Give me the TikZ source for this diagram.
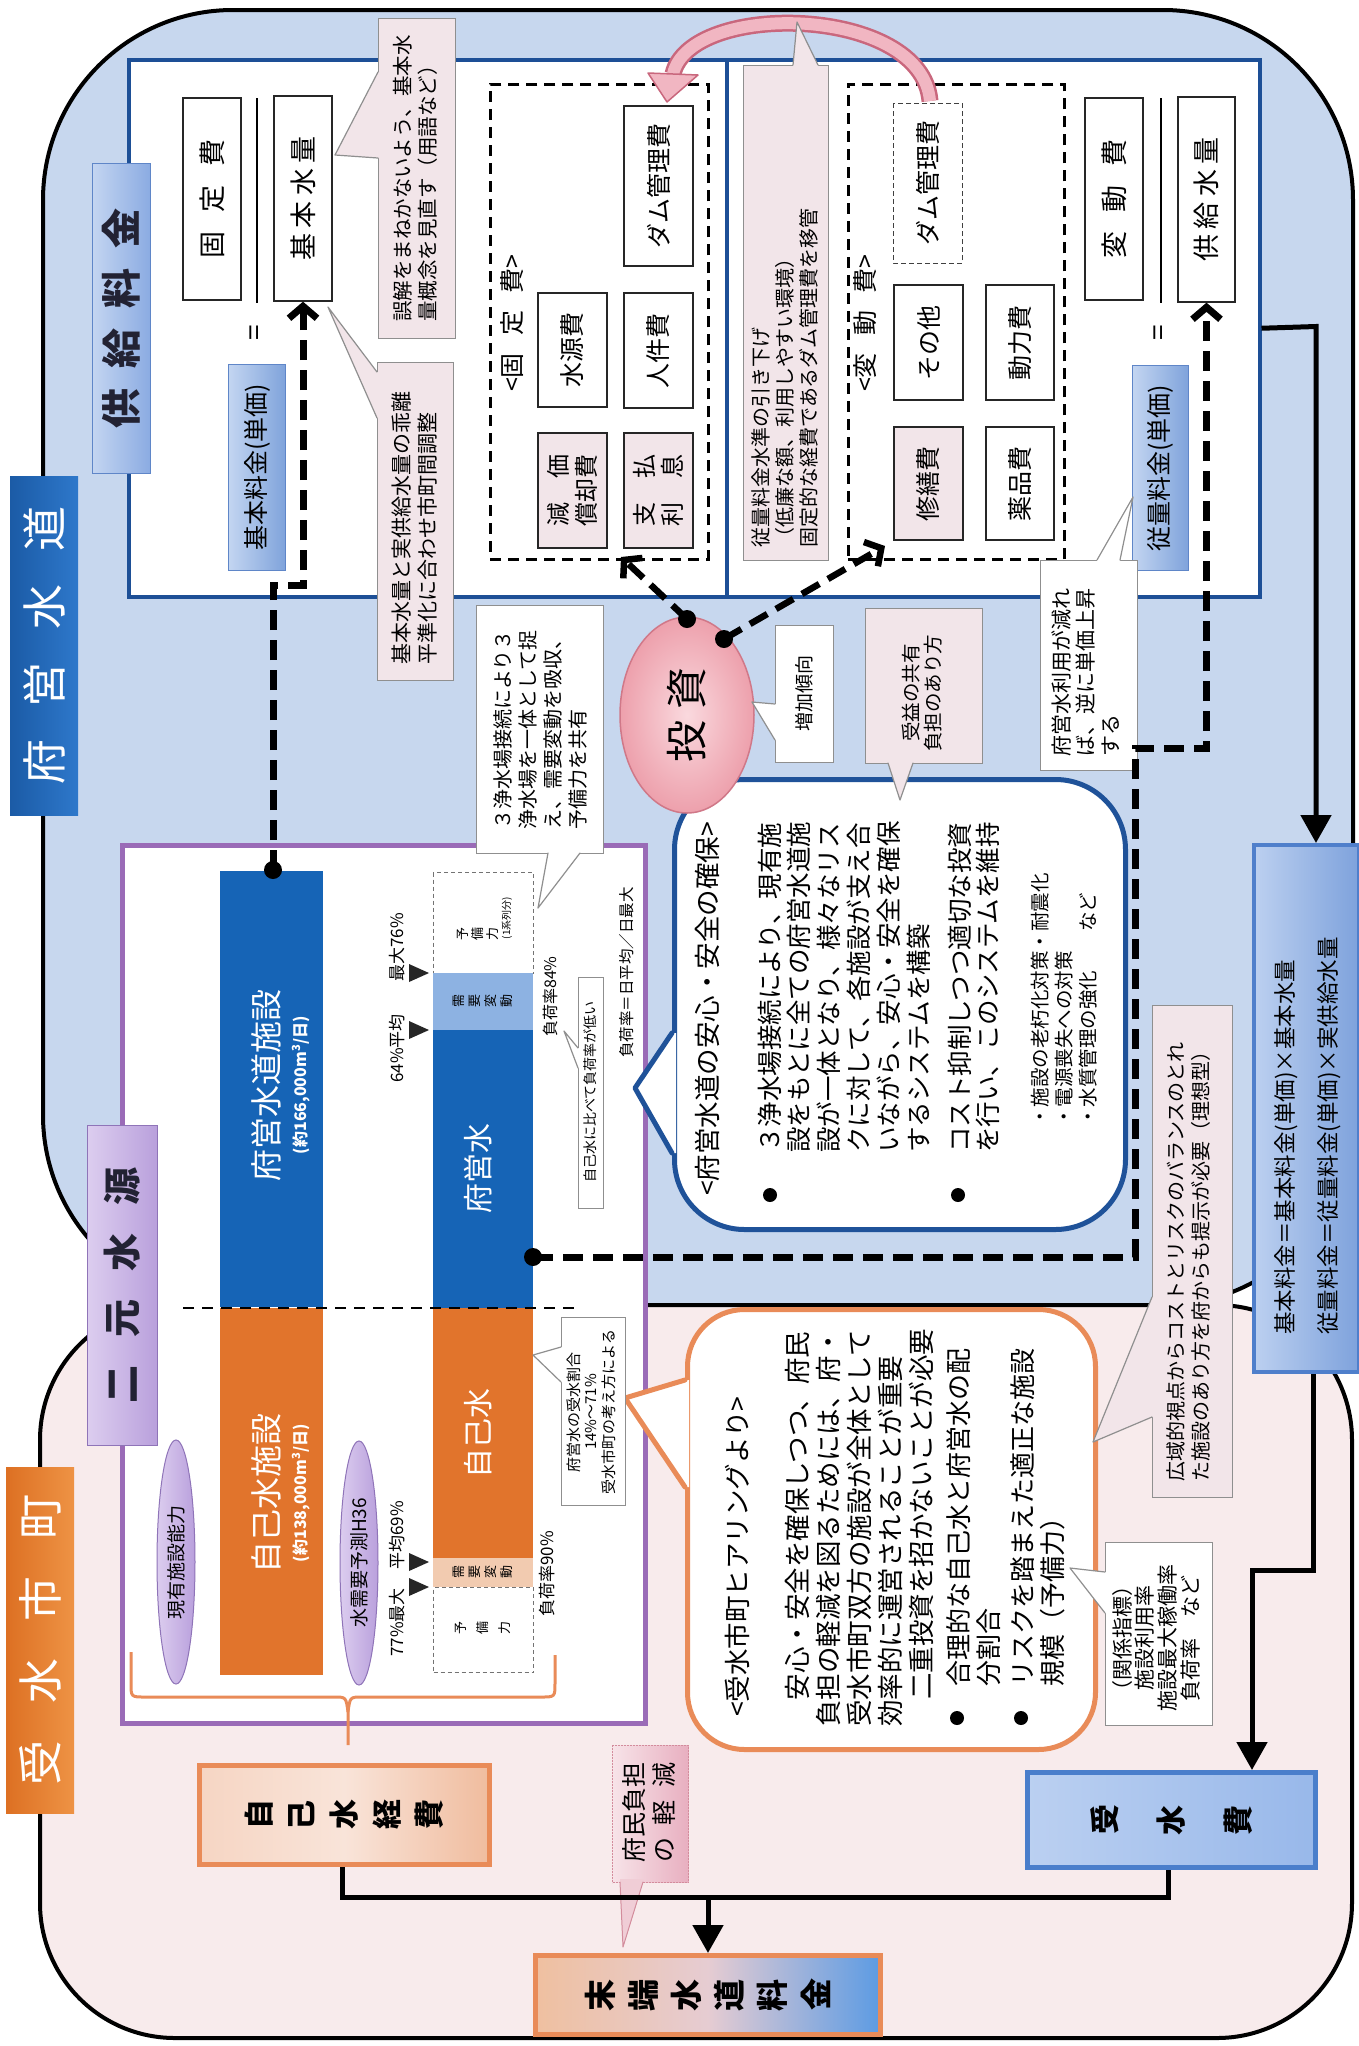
\documentclass[tikz,border=0pt]{standalone}
\usepackage{fontspec}
\usepackage{graphicx}
\setmainfont{Noto Sans CJK JP}
\usetikzlibrary{arrows.meta,shapes.geometric,calc}
\definecolor{regblue}{HTML}{C7D7EE}
\definecolor{regpink}{HTML}{F8EBEC}
\definecolor{panelblue}{HTML}{1D4F96}
\definecolor{cpink}{HTML}{F2E5E9}
\definecolor{cedge}{HTML}{8F8F8F}
\definecolor{fueiblue}{HTML}{1664B6}
\definecolor{jikoorange}{HTML}{E1742C}
\definecolor{segblue}{HTML}{8DB2E2}
\definecolor{segpeach}{HTML}{F2CBB0}
\definecolor{purpleb}{HTML}{9A6BB7}
\definecolor{orangel}{HTML}{E98B58}
\definecolor{bubblue}{HTML}{1F5299}
\definecolor{lbA}{HTML}{C3D5F1}
\definecolor{lbB}{HTML}{7FA3DB}
\definecolor{lbedge}{HTML}{5F86C8}
\definecolor{pinkarc}{HTML}{F1B6C2}
\definecolor{pinkarcd}{HTML}{C9677D}
\definecolor{ellA}{HTML}{FAD9DE}
\definecolor{ellB}{HTML}{EDA0AC}
\definecolor{ellD}{HTML}{D07888}
\definecolor{labdark}{HTML}{1B5BA6}
\definecolor{labdark2}{HTML}{2E78CB}
\definecolor{laborange}{HTML}{DD7023}
\definecolor{laborange2}{HTML}{EE9345}
\definecolor{lavA}{HTML}{DCCDEF}
\definecolor{lavB}{HTML}{B9A0DC}
\definecolor{lavD}{HTML}{8F74B8}
\definecolor{kyA}{HTML}{B9CDEF}
\definecolor{kyB}{HTML}{8BABE2}
\definecolor{peachA}{HTML}{F6D5C3}
\definecolor{peachM}{HTML}{F9E4D9}
\definecolor{peachB}{HTML}{F0BC9E}
\definecolor{endA}{HTML}{EFC0A0}
\definecolor{endM}{HTML}{E6CCD2}
\definecolor{endB}{HTML}{5C9BE3}
\definecolor{jsA}{HTML}{BBD0F1}
\definecolor{jsB}{HTML}{98B8EA}
\definecolor{jsD}{HTML}{4A7ECB}
\definecolor{fmA}{HTML}{BCD0F0}
\definecolor{fmB}{HTML}{7EA2DC}
\definecolor{fmD}{HTML}{4F7FCB}
\definecolor{c12A}{HTML}{F7E3E8}
\definecolor{c12B}{HTML}{E8AFC0}
\definecolor{c12D}{HTML}{D38C9C}
\definecolor{c12F}{HTML}{F0CDD6}
\definecolor{darktxt}{HTML}{222233}
\newcommand{\fsz}[2]{\fontsize{#1pt}{#2pt}\selectfont}
\newcommand{\rgw}[2]{\makebox[#1]{\rotatebox[origin=c]{90}{#2}}}
\newcommand{\cbox}[6]{\node[#2,minimum width={#5-#3},minimum height={#6-#4}] (#1) at (#3,#4) {};}
\newcommand{\cptr}[6]{\fill[#1] ($(#3)+(#6)$) -- (#3) -- (#4) -- (#5) -- ($(#5)+(#6)$) -- cycle;\draw[#2,line cap=round,line join=round] (#3) -- (#4) -- (#5);}
\begin{document}
\begin{tikzpicture}[x=1pt,y=-1pt,
 rt/.style={rotate=90,inner sep=0pt,align=left},
 rtc/.style={rotate=90,inner sep=0pt,align=center},
 bx/.style={inner sep=0pt,anchor=north west},
 wbox/.style={rotate=90,draw=black!85,line width=1.3pt,fill=white,inner sep=0pt,align=center},
 pkbox/.style={wbox,fill=cpink},
 callw/.style={bx,draw=cedge,line width=1.2pt,fill=white},
 callp/.style={bx,draw=cedge,line width=1.2pt,fill=cpink},
 ptredge/.style={draw=cedge,line width=1.2pt},
 thickdash/.style={line width=7pt,dash pattern=on 20pt off 10pt},
 barb/.style={-{Straight Barb[length=12pt,width=28pt]}},
 blk/.style={line width=5pt,-{Triangle[length=28pt,width=30pt]}},
 dotn/.style={circle,fill=black,inner sep=0pt,minimum size=18pt},
 bigdash/.style={draw=black,line width=2.5pt,dash pattern=on 11pt off 7pt},
 smalldash/.style={draw=black!55,line width=1pt,dash pattern=on 4pt off 3pt},
 tri/.style={fill=black!85}
]
\useasboundingbox (0,0) rectangle (1359,2046);
\fill[white] (0,0) rectangle (1359,2046);

% ---------------- regions
\draw[line width=4pt,fill=regblue,rounded corners=190pt] (43,10) rectangle (1353,1305);
\draw[line width=4pt,fill=regpink,rounded corners=135pt] (40,1305) rectangle (1352,2038);

% ---------------- top panel
\node[bx,draw=panelblue,line width=3.5pt,fill=white,minimum width=1131pt,minimum height=537pt] (panel) at (127,58) {};
\draw[panelblue,line width=3.5pt] (727,58) -- (727,595);

% left fraction
\node[wbox,minimum width=202pt,minimum height=58pt,font=\fsz{27}{30}] (koteihi) at (212,199) {固\hspace{0.7em}定\hspace{0.7em}費};
\node[wbox,minimum width=205pt,minimum height=58pt,font=\fsz{27}{30}] (kihon) at (303,198.5) {基\hspace{0.2em}本\hspace{0.2em}水\hspace{0.2em}量};
\draw[line width=1.5pt] (257,98) -- (257,303);
\node[rtc,font=\fsz{28}{30}] (eq1) at (257,333) {=};
\node[bx,draw=lbedge,line width=1pt,left color=lbA,right color=lbB,minimum width=57pt,minimum height=206pt] (kihonryo) at (228,364) {\rotatebox{90}{\fsz{25}{28}基本料金(単価)}};

% fixed cost container
\node[bx,bigdash,minimum width=218pt,minimum height=475pt] (fixbox) at (489,83) {};
\node[rtc,font=\fsz{25}{28}] (fixlab) at (512,323) {<固\hspace{0.7em}定\hspace{0.7em}費>};
\node[wbox,minimum width=114pt,minimum height=69pt,font=\fsz{25}{28}] (suigen) at (572.5,350) {水源費};
\node[wbox,minimum width=160pt,minimum height=69pt,font=\fsz{25}{28}] (dam1) at (658.5,186) {ダム管理費};
\node[wbox,minimum width=115pt,minimum height=69pt,font=\fsz{25}{28}] (jinken) at (658.5,350.5) {人件費};
\node[pkbox,minimum width=115pt,minimum height=69pt,font=\fsz{24}{28}] (genka) at (572.5,490.5) {減\hspace{1em}価\\償却費};
\node[pkbox,minimum width=115pt,minimum height=69pt,font=\fsz{24}{28}] (shiharai) at (658.5,490.5) {支\hspace{1em}払\\利\hspace{1em}息};

% variable cost container
\node[bx,bigdash,minimum width=216pt,minimum height=475pt] (varbox) at (847,83) {};
\node[rtc,font=\fsz{25}{28}] (varlab) at (865,323) {<変\hspace{0.7em}動\hspace{0.7em}費>};
\node[rotate=90,draw=black!75,line width=1pt,dash pattern=on 5pt off 3pt,fill=white,inner sep=0pt,minimum width=160pt,minimum height=69pt,font=\fsz{25}{28}] (dam2) at (927.5,183) {ダム管理費};
\node[wbox,minimum width=115pt,minimum height=69pt,font=\fsz{25}{28}] (sonota) at (928.5,342.5) {その他};
\node[wbox,minimum width=115pt,minimum height=68pt,font=\fsz{25}{28}] (douryoku) at (1020,342.5) {動力費};
\node[pkbox,minimum width=113pt,minimum height=69pt,font=\fsz{25}{28}] (shuzen) at (928.5,483.5) {修繕費};
\node[wbox,minimum width=113pt,minimum height=68pt,font=\fsz{25}{28}] (yakuhin) at (1020,483.5) {薬品費};

% right fraction
\node[wbox,minimum width=202pt,minimum height=58pt,font=\fsz{27}{30}] (hendo) at (1114,199) {変\hspace{0.7em}動\hspace{0.7em}費};
\draw[line width=1.5pt] (1161,98) -- (1161,303);
\node[wbox,minimum width=205pt,minimum height=57pt,font=\fsz{27}{30}] (kyokyu) at (1206.5,199.5) {供\hspace{0.2em}給\hspace{0.2em}水\hspace{0.2em}量};
\node[rtc,font=\fsz{28}{30}] (eq2) at (1161,333) {=};
\node[bx,draw=lbedge,line width=1pt,left color=lbA,right color=lbB,minimum width=56pt,minimum height=205pt] (juryoryo) at (1132,365) {\rotatebox{90}{\fsz{25}{28}従量料金(単価)}};

% ---------------- lower chart (二元水源)
\node[bx,draw=purpleb,line width=5pt,fill=white,minimum width=523pt,minimum height=878pt] (purplebox) at (120,843) {};
\node[bx,fill=fueiblue,minimum width=103pt,minimum height=436pt] (fsbar) at (220,871) {};
\node[bx,fill=jikoorange,minimum width=103pt,minimum height=367pt] (jsbar) at (220,1308) {};
\node[rtc,text=white,font=\fsz{32}{34}] (fsbart) at (266,1085) {府営水道施設};
\node[rtc,text=white,font=\fsz{16}{18}\bfseries] (fsbart2) at (301,1085) {(約166,000m\textsuperscript{3}/日)};
\node[rtc,text=white,font=\fsz{32}{34}] (jsbart) at (266,1493) {自己水施設};
\node[rtc,text=white,font=\fsz{16}{18}\bfseries] (jsbart2) at (301,1493) {(約138,000m\textsuperscript{3}/日)};

\node[bx,smalldash,minimum width=100pt,minimum height=101pt] (yobi1) at (433,872) {};
\node[bx,fill=segblue,minimum width=100pt,minimum height=57pt] (juyo1) at (433,973) {};
\node[bx,fill=fueiblue,minimum width=100pt,minimum height=278pt] (fueisui) at (433,1030) {};
\node[bx,fill=jikoorange,minimum width=100pt,minimum height=250pt] (jikosui) at (433,1308) {};
\node[bx,fill=segpeach,minimum width=100pt,minimum height=29pt] (juyo2) at (433,1558) {};
\node[bx,smalldash,minimum width=100pt,minimum height=85pt] (yobi2) at (433,1587) {};
\node[rtc,text=white,font=\fsz{30}{32}] (fueisuit) at (478,1168) {府営水};
\node[rtc,text=white,font=\fsz{30}{32}] (jikosuit) at (478,1433) {自己水};
\node[inner sep=0pt,font=\fsz{13}{14}] (juyo1t) at (483,1001) {\rgw{16pt}{需}\rgw{16pt}{要}\rgw{16pt}{変}\rgw{16pt}{動}};
\node[inner sep=0pt,font=\fsz{13}{14}] (juyo2t) at (483,1572) {\rgw{16pt}{需}\rgw{16pt}{要}\rgw{16pt}{変}\rgw{16pt}{動}};
\node[inner sep=0pt,font=\fsz{13}{14}] (yobi1t) at (478,934) {\rgw{15pt}{予}\rgw{15pt}{備}\rgw{15pt}{力}};
\node[rtc,font=\fsz{10}{11}] (yobi1t2) at (507,918) {(1系列分)};
\node[inner sep=0pt,font=\fsz{13}{14}] (yobi2t) at (483,1628) {\rgw{22pt}{予}\rgw{22pt}{備}\rgw{22pt}{力}};

\draw[line width=2.5pt,dash pattern=on 11pt off 8pt] (183,1308) -- (577,1308);
\fill[tri] (409,964) -- (429,973) -- (409,982) -- cycle;
\fill[tri] (409,1021) -- (429,1030) -- (409,1039) -- cycle;
\fill[tri] (409,1553) -- (429,1562) -- (409,1571) -- cycle;
\fill[tri] (409,1578) -- (429,1587) -- (409,1596) -- cycle;
\node[rt,font=\fsz{17}{19},anchor=west] (lmax76) at (397,982) {最大76\%};
\node[rt,font=\fsz{17}{19},anchor=west] (lavg64) at (397,1083) {64\%平均};
\node[rt,font=\fsz{17}{19},anchor=west] (lavg69) at (397,1570) {平均69\%};
\node[rt,font=\fsz{17}{19},anchor=west] (lmax77) at (397,1657) {77\%最大};
\node[rt,font=\fsz{16}{18},anchor=west] (lf84) at (550,1037) {負荷率84\%};
\node[rt,font=\fsz{17}{19},anchor=west] (lf90) at (547,1617) {負荷率90\%};
\node[rt,font=\fsz{15.5}{18},anchor=west] (lfdef) at (627,1058) {負荷率＝日平均／日最大};

% ellipses
\node[ellipse,draw=lavD,line width=1pt,left color=lavA,right color=lavB,inner sep=0pt,minimum width=38pt,minimum height=244pt] (ell1) at (176,1562) {\rotatebox{90}{\fsz{19}{20}現有施設能力}};
\node[ellipse,draw=lavD,line width=1pt,left color=lavA,right color=lavB,inner sep=0pt,minimum width=38pt,minimum height=244pt] (ell2) at (359,1563) {\rotatebox{90}{\fsz{19}{20}水需要予測H36}};

% brace
\draw[orangel,line width=3pt] (131,1652) -- (131,1683) .. controls (131,1697) .. (145,1697) -- (334,1697) .. controls (346,1697) .. (348,1712) -- (348,1745);
\draw[orangel,line width=3pt] (348,1712) .. controls (350,1697) .. (362,1697) -- (541,1697) .. controls (555,1697) .. (555,1683) -- (555,1655);

% ---------------- bubbles
\node[bx,draw=bubblue,line width=5pt,fill=white,rounded corners=70pt,minimum width=451pt,minimum height=450pt] (bub1) at (672,777) {};
\cptr{white}{draw=bubblue,line width=5pt}{672,1033}{635,1088}{672,1153}{4,0}
\node[rt,font=\fsz{26.5}{30},anchor=west] (b1t) at (707,1196) {<府営水道の安心・安全の確保>};
\node[dotn,minimum size=14pt] (bd1) at (770,1195) {};
\node[dotn,minimum size=14pt] (bd2) at (958,1195) {};
\node[rt,font=\fsz{25.5}{29.8},anchor=north west] (b1a) at (757.5,1153) {３浄水場接続により、現有施\\設をもとに全ての府営水道施\\設が一体となり、様々なリス\\クに対して、各施設が支え合\\いながら、安心・安全を確保\\するシステムを構築};
\node[rt,font=\fsz{25.5}{28.5},anchor=north west] (b1b) at (947.5,1153) {コスト抑制しつつ適切な投資\\を行い、このシステムを維持};
\node[rt,font=\fsz{19.5}{24},anchor=north west] (b1c) at (1031,1127) {・施設の老朽化対策・耐震化\\・電源喪失への対策\\・水質管理の強化　　など};

\node[bx,draw=orangel,line width=5pt,fill=white,rounded corners=57pt,minimum width=408pt,minimum height=440pt] (bub2) at (685,1307) {};
\cptr{white}{draw=orangel,line width=5pt}{685,1380}{625,1398}{685,1487}{4,0}
\node[rt,font=\fsz{26.5}{30},anchor=west] (b2t) at (737,1717) {<受水市町ヒアリングより>};
\node[rt,font=\fsz{26.5}{31},anchor=north west] (b2a) at (785,1727) {\hspace{1em}安心・安全を確保しつつ、府民\\負担の軽減を図るためには、府・\\受水市町双方の施設が全体として\\効率的に運営されることが重要};
\node[rt,font=\fsz{26.5}{31},anchor=west] (b2b) at (921,1700) {二重投資を招かないことが必要};
\node[dotn,minimum size=14pt] (bd3) at (957,1718) {};
\node[dotn,minimum size=14pt] (bd4) at (1021,1718) {};
\node[rt,font=\fsz{26}{30},anchor=north west] (b2c) at (946,1687) {合理的な自己水と府営水の配\\分割合};
\node[rt,font=\fsz{26}{30},anchor=north west] (b2d) at (1010,1687) {リスクを踏まえた適正な施設\\規模（予備力）};

% ---------------- investment ellipse
\node[ellipse,draw=ellD,line width=1.5pt,inner color=ellA,outer color=ellB,inner sep=0pt,minimum width=134pt,minimum height=196pt] (toshi) at (687,715) {\rotatebox{90}{\fsz{42}{45}投\hspace{0.25em}資}};

% ---------------- callouts
\cbox{c1}{callp}{378}{18}{455}{338}
\cptr{cpink}{ptredge}{378,72}{335,155}{378,158}{3,0}
\node[rt,font=\fsz{20.5}{25},anchor=north west] (c1t) at (393,322) {誤解をまねかないよう、基本水\\量概念を見直す（用語など）};

\cbox{c2}{callp}{377}{362}{453}{680}
\cptr{cpink}{ptredge}{377,372}{328,307}{377,418}{3,0}
\node[rt,font=\fsz{21}{26},anchor=north west] (c2t) at (391.5,665) {基本水量と実供給水量の乖離\\平準化に合わせ市町間調整};

\cbox{c4}{callw}{1040}{560}{1137}{770}
\cptr{white}{ptredge}{1097,560}{1133,497}{1120,560}{0,3}
\node[rt,font=\fsz{21}{24.5},anchor=north west] (c4t) at (1051.5,757) {府営水利用が減れ\\ば、逆に単価上昇\\する};

\cbox{c5}{callp}{865}{608}{982}{763}
\cptr{cpink}{ptredge}{888,763}{900,800}{913,763}{0,-3}
\node[rtc,font=\fsz{19.5}{21.5}] (c5t) at (922,693) {受益の共有\\負担のあり方};

\cbox{c6}{callw}{775}{625}{833}{762}
\cptr{white}{ptredge}{775,704}{752,702}{775,740}{3,0}
\node[rtc,font=\fsz{19}{21}] (c6t) at (804,693) {増加傾向};

\cbox{c7}{callw}{476}{605}{603}{853}
\cptr{white}{ptredge}{548,853}{538,908}{580,853}{0,-3}
\node[rt,font=\fsz{20}{25},anchor=north west] (c7t) at (493,830) {３浄水場接続により３\\浄水場を一体として捉\\え、需要変動を吸収、\\予備力を共有};

\cbox{c8}{callw}{578}{977}{603}{1208}
\cptr{white}{ptredge}{578,1048}{564,1031}{578,1068}{3,0}
\node[rtc,font=\fsz{14}{16}] (c8t) at (590.5,1092) {自己水に比べて負荷率が低い};

\cbox{c9}{callw}{561}{1317}{625}{1505}
\cptr{white}{ptredge}{561,1347}{533,1355}{561,1382}{3,0}
\node[rtc,font=\fsz{15}{17.5}] (c9t) at (591,1412) {府営水の受水割合\\14\%〜71\%\\受水市町の考え方による};

\cbox{c10}{callw}{1105}{1542}{1212}{1725}
\cptr{white}{ptredge}{1105,1572}{1070,1568}{1105,1613}{3,0}
\node[rtc,font=\fsz{21}{22.7}] (c10t) at (1156,1638) {（関係指標）\\施設利用率\\施設最大稼働率\\負荷率　など};

\cbox{c11}{callp}{1152}{1005}{1232}{1497}
\cptr{cpink}{ptredge}{1152,1297}{1093,1442}{1152,1417}{3,0}
\node[rt,font=\fsz{20}{25},anchor=north west] (c11t) at (1166,1482) {広域的視点からコストとリスクのバランスのとれ\\た施設のあり方を府からも提示が必要（理想型）};

\node[bx,draw=c12D,line width=1pt,dash pattern=on 2pt off 1pt,left color=c12A,right color=c12B,minimum width=76pt,minimum height=137pt] (c12) at (612,1745) {};
\cptr{c12F}{draw=c12D,line width=1pt}{620,1882}{623,1947}{643,1882}{0,-3}
\node[rt,font=\fsz{25}{30},anchor=north west] (c12t) at (622,1863) {府民負担\\の\hspace{0.5em}軽\hspace{0.5em}減};

% ---------------- dashed arrows
\node[dotn] (dot1) at (273,870) {};
\coordinate (p1) at (273,585);
\coordinate (p2) at (303,585);
\draw[thickdash,barb] (dot1.center) -- (p1) -- (p2) -- (kihon.west);
\node[dotn] (dot2) at (533,1257) {};
\coordinate (q1) at (1135,1257);
\coordinate (q2) at (1135,748);
\coordinate (q3) at (1206.5,748);
\draw[thickdash,barb] (dot2.center) -- (q1) -- (q2) -- (q3) -- (kyokyu.west);
\node[dotn] (dotA) at (687,619) {};
\node[dotn] (dotB) at (724,639) {};
\coordinate (tA) at (621,557);
\coordinate (tB) at (885,546);
\draw[thickdash,line width=6.5pt,barb] (dotA.center) -- (tA);
\draw[thickdash,line width=6.5pt,barb] (dotB.center) -- (tB);

% ---------------- pink arc
\draw[pinkarcd,line width=17pt] (930,101) .. controls (922,5) and (690,0) .. (673,74);
\draw[pinkarc,line width=12pt] (930,101) .. controls (922,5) and (690,0) .. (673,74);
\filldraw[fill=pinkarc,draw=pinkarcd,line width=1.5pt,line join=round] (648,73) -- (698,75) -- (667,102) -- cycle;

\cbox{c3}{callp}{743}{65}{828}{560}
\cptr{cpink}{ptredge}{793,65}{797,22}{818,65}{0,3}
\node[rt,font=\fsz{20}{24},anchor=north west] (c3t) at (751,548) {従量料金水準の引き下げ\\（低廉な額、利用しやすい環境）\\固定的な経費であるダム管理費を移管};

% ---------------- formula box and cost boxes
\node[bx,draw=fmD,line width=4pt,left color=fmA,right color=fmB,minimum width=105pt,minimum height=527pt] (formula) at (1252,843) {};
\node[rt,font=\fsz{22.5}{43},anchor=north west] (formulat) at (1274,1335) {基本料金＝基本料金(単価)×基本水量\\従量料金＝従量料金(単価)×実供給水量};

\node[bx,draw=jsD,line width=5pt,left color=jsA,right color=jsB,minimum width=288pt,minimum height=95pt,font=\fsz{30}{32}\bfseries] (jusuihi) at (1025,1770) {\rgw{67pt}{受}\rgw{67pt}{水}\rgw{67pt}{費}};
\node[bx,draw=orangel,line width=5pt,left color=peachA,right color=peachB,middle color=peachM,minimum width=290pt,minimum height=99pt,font=\fsz{30}{32}\bfseries] (jikokeihi) at (197,1763) {\rgw{42.5pt}{自}\rgw{42.5pt}{己}\rgw{42.5pt}{水}\rgw{42.5pt}{経}\rgw{42.5pt}{費}};
\node[bx,draw=orangel,line width=5pt,left color=endA,right color=endB,middle color=endM,minimum width=345pt,minimum height=79pt,font=\fsz{32}{34}\bfseries] (matan) at (533,1953) {\rgw{43.2pt}{末}\rgw{43.2pt}{端}\rgw{43.2pt}{水}\rgw{43.2pt}{道}\rgw{43.2pt}{料}\rgw{43.2pt}{金}};

% ---------------- black connectors
\coordinate (k1) at (1316,326.5);
\draw[blk] (panel.east) -- (k1) -- (k1 |- formula.north);
\coordinate (k2) at (1313,1570);
\coordinate (k3) at (1252,1570);
\draw[blk] (formula.south -| k2) -- (k2) -- (k3) -- (k3 |- jusuihi.north);
\coordinate (k4) at (1168,1897);
\coordinate (k5) at (342,1897);
\draw[line width=5pt] (jusuihi.south -| k4) -- (k4) -- (k5) -- (k5 |- jikokeihi.south);
\draw[blk] (matan.north |- k4) -- (matan.north);

% ---------------- section labels
\node[bx,left color=labdark,right color=labdark2,minimum width=68pt,minimum height=339pt,text=white] (labfuei) at (10,476) {\rotatebox{90}{\fsz{45}{45}府\hspace{0.73em}営\hspace{0.73em}水\hspace{0.73em}道}};
\node[bx,left color=laborange,right color=laborange2,minimum width=68pt,minimum height=346pt,text=white] (labjusui) at (6,1467) {\rotatebox{90}{\fsz{45}{45}受\hspace{0.82em}水\hspace{0.82em}市\hspace{0.82em}町}};
\node[bx,draw=lavD,line width=1pt,left color=lavA,right color=lavB,minimum width=70pt,minimum height=320pt,text=darktxt] (labnigen) at (87,1125) {\rotatebox{90}{\fsz{38}{40}\bfseries 二\hspace{0.73em}元\hspace{0.73em}水\hspace{0.73em}源}};
\node[bx,draw=lbedge,line width=1pt,left color=lbA,right color=kyB,minimum width=58pt,minimum height=310pt,text=darktxt] (labkyokyu) at (92,163) {\rotatebox{90}{\fsz{40}{42}\bfseries 供\hspace{0.5em}給\hspace{0.5em}料\hspace{0.5em}金}};
\end{tikzpicture}
\end{document}
